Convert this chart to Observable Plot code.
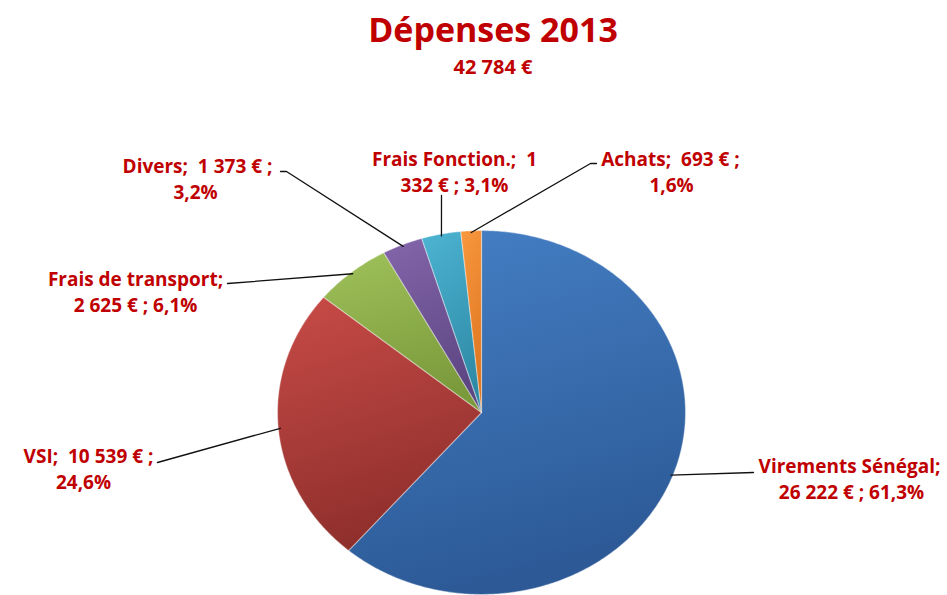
<!DOCTYPE html>
<html>
<head>
<meta charset="utf-8">
<script src="https://cdn.jsdelivr.net/npm/d3@7"></script>
<script src="https://cdn.jsdelivr.net/npm/@observablehq/plot@0.6"></script>
<style>
  html, body { margin: 0; padding: 0; background: #fff; }
  #chart svg { display: block; }
</style>
</head>
<body>
<div id="chart"></div>
<script>
// ---- Data ----
const title = "Dépenses 2013";
const categories = ["Virements Sénégal", "VSI", "Frais de transport", "Divers", "Frais Fonction.", "Achats"];
const values = [26222, 10539, 2625, 1373, 1332, 693];

// ---- Styles / layout (kept separate from data) ----
const colorsTop = ["#4580c6", "#c84b47", "#9fc15a", "#8465aa", "#4cb4d2", "#f8983f"];
const colorsBottom = ["#2d5a97", "#8f2f2c", "#7b9a3c", "#5c4682", "#2f8aa6", "#de7620"];
const textColor = "#c00000";
const W = 947, H = 595;
const cx = 481, cy = 412, rx = 204, ry = 182;   // ellipse of the pie in pixels
// label anchor (center x, baseline of first line) and leader end, in pixels
const labelCenter = [[849, 472], [88, 462], [135, 285], [197, 172], [454, 165], [670, 165]];
const line2Center = [851, 83, 135, 195, 454, 671];
const leaderEnd = [[[753, 472]], [[157, 462]], [[227, 283]], [[280, 171], [286, 171]], [[441, 195]], [[596, 163], [590, 163]]];
const firstLineWords = [2, 5, 3, 5, 3, 4];
const lineGap = 26;
const fontFamily = "'Open Sans', Lato, 'DejaVu Sans', sans-serif";

// ---- Formatting ----
const fr = d3.formatLocale({decimal: ",", thousands: " ", grouping: [3], currency: ["", " €"]});
const fmtNum = fr.format(",d");
const fmtPct = fr.format(".1%");
const total = d3.sum(values);

// ---- Pie geometry (unit coordinates, y up) ----
const pie = d3.pie().sort(null).value(d => d)(values);
const toUX = px => (px - cx) / rx;
const toUY = py => (cy - py) / ry;

const slices = pie.map((p, i) => {
  const pts = [{x: 0, y: 0}];
  const n = Math.max(4, Math.ceil((p.endAngle - p.startAngle) / 0.01));
  for (let k = 0; k <= n; k++) {
    const a = p.startAngle + (p.endAngle - p.startAngle) * k / n;
    pts.push({x: Math.sin(a), y: Math.cos(a)});
  }
  pts.push({x: 0, y: 0});
  return pts;
});

const leaders = [];
pie.forEach((p, i) => {
  const a = (p.startAngle + p.endAngle) / 2;
  leaders.push({id: i, x: Math.sin(a) * 0.99, y: Math.cos(a) * 0.99});
  leaderEnd[i].slice().reverse().forEach(([px, py]) => leaders.push({id: i, x: toUX(px), y: toUY(py)}));
});

const labelLines = [];
categories.forEach((c, i) => {
  const full = `${c}; ${fmtNum(values[i])} € ; ${fmtPct(values[i] / total)}`;
  const words = full.split(" ");
  let l1 = words.slice(0, firstLineWords[i]).join(" ");
  const l2 = words.slice(firstLineWords[i]).join(" ");
  if (i !== 0 && i !== 2) l1 = l1.replace(/; /, ";\u00a0 ");
  labelLines.push({x: toUX(labelCenter[i][0]), y: toUY(labelCenter[i][1]), text: l1});
  labelLines.push({x: toUX(line2Center[i]), y: toUY(labelCenter[i][1] + lineGap), text: l2});
});

const plot = Plot.plot({
  width: W,
  height: H,
  margin: 0,
  style: {fontFamily, background: "transparent"},
  x: {domain: [-1, 1], range: [cx - rx, cx + rx], axis: null},
  y: {domain: [-1, 1], range: [cy + ry, cy - ry], axis: null},
  marks: [
    ...slices.map((pts, i) => Plot.line(pts, {
      x: "x", y: "y", curve: "linear",
      fill: `url(#grad${i})`,
      stroke: "rgba(255,255,255,0.35)", strokeWidth: 1.2, strokeLinejoin: "round"
    })),
    Plot.line(leaders, {x: "x", y: "y", z: "id", stroke: "#111", strokeWidth: 1.3}),
    Plot.text(labelLines, {
      x: "x", y: "y", text: "text", lineAnchor: "bottom",
      fill: textColor, fontSize: 19, fontWeight: "bold"
    }),
    Plot.text([title], {
      frameAnchor: "top", dy: 41, lineAnchor: "bottom",
      text: d => d, fill: textColor, fontSize: 34, fontWeight: "bold", dx: 19
    }),
    Plot.text([fr.format(",d")(total) + " €"], {
      frameAnchor: "top", dy: 73, lineAnchor: "bottom",
      text: d => d, fill: textColor, fontSize: 20, fontWeight: "bold", dx: 19
    })
  ]
});

// gradient definitions for the slice fills
const defs = d3.select(plot).insert("defs", ":first-child");
colorsTop.forEach((c, i) => {
  const g = defs.append("linearGradient").attr("id", `grad${i}`)
    .attr("x1", 0).attr("y1", 0).attr("x2", 0.25).attr("y2", 1);
  g.append("stop").attr("offset", "0%").attr("stop-color", c);
  g.append("stop").attr("offset", "100%").attr("stop-color", colorsBottom[i]);
});

document.getElementById("chart").appendChild(plot);
</script>
</body>
</html>
